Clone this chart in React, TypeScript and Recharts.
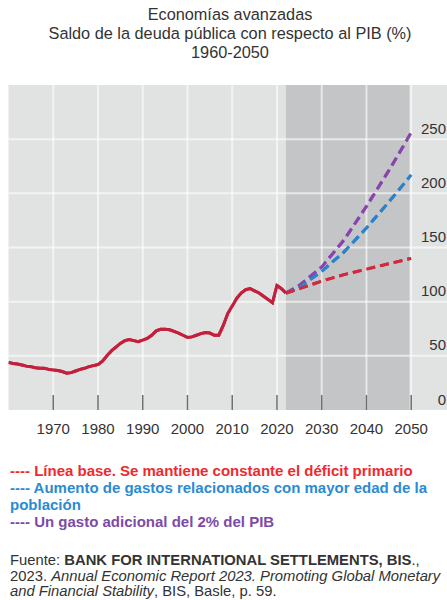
import React from "react";
import {
  LineChart,
  Line,
  XAxis,
  YAxis,
  CartesianGrid,
  ReferenceArea,
} from "recharts";

const histYears = [
  1960, 1961, 1962, 1963, 1964, 1965, 1966, 1967, 1968, 1969,
  1970, 1971, 1972, 1973, 1974, 1975, 1976, 1977, 1978, 1979,
  1980, 1981, 1982, 1983, 1984, 1985, 1986, 1987, 1988, 1989,
  1990, 1991, 1992, 1993, 1994, 1995, 1996, 1997, 1998, 1999,
  2000, 2001, 2002, 2003, 2004, 2005, 2006, 2007, 2008, 2009,
  2010, 2011, 2012, 2013, 2014, 2015, 2016, 2017, 2018, 2019,
  2020, 2021, 2022,
];
const histDebt = [
  44, 43, 42.5, 41.5, 40.5, 40, 39, 38.5, 38.5, 37.5,
  37, 36.5, 35.5, 34, 34.5, 36, 37.5, 38.5, 40, 41,
  42, 45, 50, 54.5, 58, 61.5, 64, 65, 64, 63,
  64.5, 66, 69, 73, 74.5, 74.5, 74, 72.5, 71, 69,
  67, 67.5, 69, 70.5, 71.5, 71, 69, 69, 78, 89,
  96, 103, 108, 111, 112, 110, 108, 105, 102, 99,
  115, 112, 108,
];

const projYears = [2022, 2025, 2030, 2035, 2040, 2045, 2050];
const baseline = [108, 112, 119, 125, 130, 135, 140];
const aging = [108, 113, 128, 146, 168, 192, 217];
const extraSpending = [108, 115, 132, 157, 188, 221, 256];

const xTicks = [1960, 1970, 1980, 1990, 2000, 2010, 2020, 2030, 2040, 2050];
const yTicks = [0, 50, 100, 150, 200, 250];
const xDomain = [1960, 2058];
const yDomain = [0, 300];

const titleLines = [
  "Economías avanzadas",
  "Saldo de la deuda pública con respecto al PIB (%)",
  "1960-2050",
];

const allYears = Array.from(new Set([...histYears, ...projYears])).sort((a, b) => a - b);
const data = allYears.map((year) => {
  const row: Record<string, number | undefined> = { year };
  const hi = histYears.indexOf(year);
  if (hi >= 0) row.hist = histDebt[hi];
  const pi = projYears.indexOf(year);
  if (pi >= 0) {
    row.base = baseline[pi];
    row.aging = aging[pi];
    row.extra = extraSpending[pi];
  }
  return row;
});

const FONT = "'Liberation Sans', Arial, sans-serif";
const CHART_W = 447;
const CHART_H = 450;
const MARGIN = { top: 85, right: 0, bottom: 10, left: 8.5 };

const XTick = (props: any) => {
  const { x, y, payload } = props;
  return (
    <g>
      {payload.value !== 1960 && (
        <line x1={x} x2={x} y1={MARGIN.top} y2={y} stroke="#ffffff" strokeOpacity={0.6} strokeWidth={2} />
      )}
      <line x1={x} x2={x} y1={y - 15} y2={y} stroke="#6b6e70" strokeWidth={1.5} />
      {payload.value !== 1960 && (
        <text
          x={x}
          y={y + 18}
          textAnchor="middle"
          dominantBaseline="central"
          fontSize={15}
          fill="#333"
          fontFamily={FONT}
        >
          {payload.value}
        </text>
      )}
    </g>
  );
};

const YTick = (props: any) => {
  const { x, y, payload } = props;
  return (
    <g>
      {payload.value !== 0 && (
        <line x1={MARGIN.left} x2={CHART_W} y1={y} y2={y} stroke="#ffffff" strokeOpacity={0.6} strokeWidth={2} />
      )}
      <text
        x={x}
        y={y - 11}
        textAnchor="end"
        dominantBaseline="central"
        fontSize={15}
        fill="#333"
        fontFamily={FONT}
      >
        {payload.value}
      </text>
    </g>
  );
};

const Series = () => [
  <Line
    key="extra"
    dataKey="extra"
    stroke="#8a44b0"
    strokeWidth={3}
    strokeDasharray="9 5"
    dot={false}
    connectNulls
    isAnimationActive={false}
  />,
];

function ChartLayer({ background }: { background: boolean }) {
  return (
    <LineChart width={CHART_W} height={CHART_H} data={data} margin={MARGIN}>
      {background && (
        <CartesianGrid fill="#e1e2e2" fillOpacity={1} stroke="none" horizontal={false} vertical={false} />
      )}
      {background && (
        <ReferenceArea
          x1={2022}
          x2={2049.6}
          fill="#8d9295"
          fillOpacity={0.36}
          stroke="none"
          ifOverflow="visible"
        />
      )}
      <XAxis
        dataKey="year"
        type="number"
        domain={xDomain}
        ticks={xTicks}
        height={30}
        axisLine={false}
        tickLine={false}
        tickSize={0}
        tickMargin={0}
        tick={background ? <XTick /> : false}
        allowDataOverflow
      />
      <YAxis
        orientation="right"
        mirror
        domain={yDomain}
        ticks={yTicks}
        axisLine={false}
        tickLine={false}
        tickSize={0}
        tickMargin={1}
        tick={background ? <YTick /> : false}
        width={40}
      />
      <Line
        dataKey="extra"
        stroke="#8a44b0"
        strokeWidth={3}
        strokeDasharray="9 5"
        dot={false}
        connectNulls
        isAnimationActive={false}
      />
      <Line
        dataKey="aging"
        stroke="#2b82cc"
        strokeWidth={3}
        strokeDasharray="9 5"
        dot={false}
        connectNulls
        isAnimationActive={false}
      />
      <Line
        dataKey="base"
        stroke="#d22a3c"
        strokeWidth={3}
        strokeDasharray="9 5"
        dot={false}
        connectNulls
        isAnimationActive={false}
      />
      <Line
        dataKey="hist"
        stroke="#c41f3b"
        strokeWidth={3}
        dot={false}
        connectNulls
        isAnimationActive={false}
      />
    </LineChart>
  );
}

export default function App() {
  return (
    <div
      style={{
        position: "absolute",
        left: 0,
        top: 0,
        width: 447,
        height: 600,
        background: "#ffffff",
        fontFamily: FONT,
        overflow: "hidden",
      }}
    >
      <div
        style={{
          position: "absolute",
          left: 30,
          top: 5,
          width: 400,
          textAlign: "center",
          fontSize: 16.3,
          lineHeight: "19px",
          color: "#333",
          whiteSpace: "nowrap",
        }}
      >
        {titleLines.map((t) => (
          <div key={t}>{t}</div>
        ))}
      </div>

      <div style={{ position: "absolute", left: 0, top: 0 }}>
        <ChartLayer background={true} />
      </div>
      <div style={{ position: "absolute", left: 0, top: 0 }}>
        <ChartLayer background={false} />
      </div>

      <div
        style={{
          position: "absolute",
          left: 10,
          top: 461.5,
          fontSize: 15,
          lineHeight: "17px",
          fontWeight: "bold",
          whiteSpace: "nowrap",
        }}
      >
        <div style={{ color: "#ee2a2f" }}>---- Línea base. Se mantiene constante el déficit primario</div>
        <div style={{ color: "#2a8bd3" }}>
          ---- Aumento de gastos relacionados con mayor edad de la
          <br />
          población
        </div>
        <div style={{ color: "#7d4aa8" }}>---- Un gasto adicional del 2% del PIB</div>
      </div>

      <div
        style={{
          position: "absolute",
          left: 10,
          top: 553,
          fontSize: 14.8,
          lineHeight: "15.5px",
          color: "#333",
          whiteSpace: "nowrap",
        }}
      >
        <div>
          Fuente: <b>BANK FOR INTERNATIONAL SETTLEMENTS, BIS</b>.,
        </div>
        <div>
          2023. <i>Annual Economic Report 2023. Promoting Global Monetary</i>
        </div>
        <div>
          <i>and Financial Stability</i>, BIS, Basle, p. 59.
        </div>
      </div>
    </div>
  );
}
